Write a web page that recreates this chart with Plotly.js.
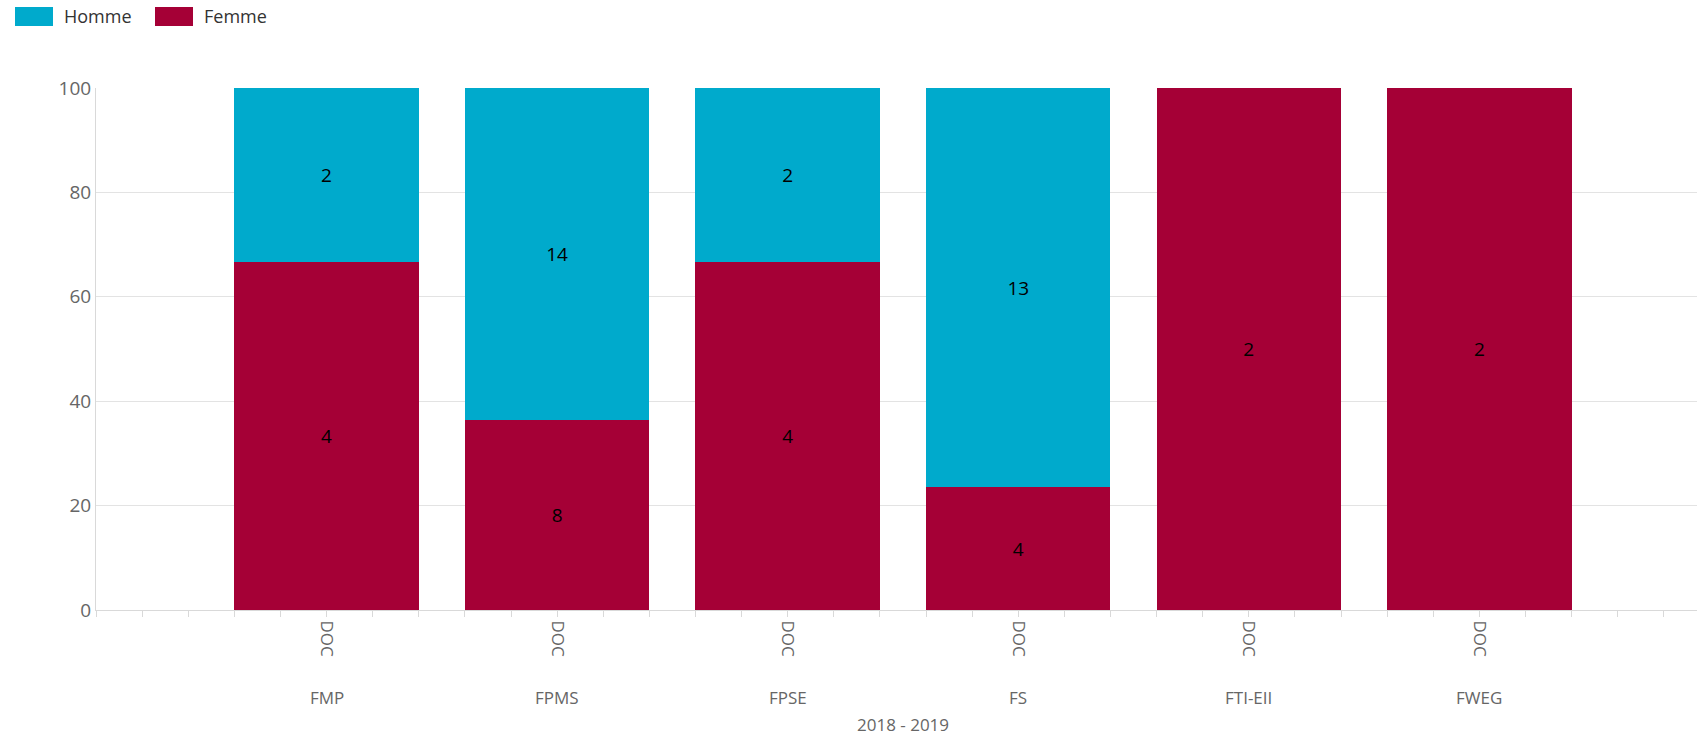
<!DOCTYPE html>
<html>
<head>
<meta charset="utf-8">
<script src="https://cdn.plot.ly/plotly-3.0.1.min.js"></script>
<style>
  html, body { margin: 0; padding: 0; background: #fff; }
  #chart { width: 1697px; height: 737px; }
</style>
</head>
<body>
<div id="chart"></div>
<script>
// ---- data ----
const faculties = ["FMP", "FPMS", "FPSE", "FS", "FTI-EII", "FWEG"];
const level = "DOC";
const yearLabel = "2018 - 2019";
const femme = [4, 8, 4, 4, 2, 2];
const homme = [2, 14, 2, 13, 0, 0];
const yTicks = [0, 20, 40, 60, 80, 100];

// ---- styling ----
const FONT = "Open Sans, Noto Sans, DejaVu Sans, sans-serif";
const C_HOMME = "#00AACC";
const C_FEMME = "#A50036";
const C_AXIS = "#d9d9d9";
const C_GRID = "#e3e3e3";
const C_TICKTXT = "#666666";

const W = 1697, H = 737;
const M = { l: 96, r: 0, t: 88, b: 127 };
const plotW = W - M.l - M.r, plotH = H - M.t - M.b;
const unit = 230.56;               // px per category step
const pos = faculties.map((_, i) => i + 1);

function px2x(px) { return (px - M.l) / plotW; }
function py2y(py) { return (H - M.b - py) / plotH; }

const txt = arr => arr.map(v => (v ? String(v) : ""));

const traces = [
  {
    type: "bar", name: "Femme", x: pos, y: femme,
    marker: { color: C_FEMME, line: { width: 0 } },
    width: 0.8,
    text: txt(femme), textposition: "inside", insidetextanchor: "middle",
    textangle: 0, constraintext: "none",
    textfont: { family: FONT, size: 19, color: "#000" },
    hoverinfo: "skip"
  },
  {
    type: "bar", name: "Homme", x: pos, y: homme,
    marker: { color: C_HOMME, line: { width: 0 } },
    width: 0.8,
    text: txt(homme), textposition: "inside", insidetextanchor: "middle",
    textangle: 0, constraintext: "none",
    textfont: { family: FONT, size: 19, color: "#000" },
    hoverinfo: "skip"
  }
];

const annotations = [];
faculties.forEach((f, i) => {
  annotations.push({
    xref: "x", yref: "paper", x: pos[i], y: py2y(697),
    text: f, showarrow: false, xanchor: "center", yanchor: "middle",
    font: { family: FONT, size: 17, color: C_TICKTXT }
  });
});
annotations.push({
  xref: "x", yref: "paper", x: (pos[0] + pos[pos.length - 1]) / 2, y: py2y(724),
  text: yearLabel, showarrow: false, xanchor: "center", yanchor: "middle",
  font: { family: FONT, size: 17, color: C_TICKTXT }
});
// legend labels
annotations.push({
  xref: "paper", yref: "paper", x: px2x(62), y: py2y(16),
  text: "Homme", showarrow: false, xanchor: "left", yanchor: "middle",
  font: { family: FONT, size: 18, color: "#333" }
});
annotations.push({
  xref: "paper", yref: "paper", x: px2x(202), y: py2y(16),
  text: "Femme", showarrow: false, xanchor: "left", yanchor: "middle",
  font: { family: FONT, size: 18, color: "#333" }
});

const shapes = [
  { type: "rect", xref: "paper", yref: "paper",
    x0: px2x(15), x1: px2x(53), y0: py2y(26), y1: py2y(7),
    fillcolor: C_HOMME, line: { width: 0 } },
  { type: "rect", xref: "paper", yref: "paper",
    x0: px2x(155), x1: px2x(193), y0: py2y(26), y1: py2y(7),
    fillcolor: C_FEMME, line: { width: 0 } }
];

const layout = {
  width: W, height: H,
  margin: M,
  paper_bgcolor: "#fff", plot_bgcolor: "#fff",
  barmode: "stack", barnorm: "percent",
  showlegend: false,
  hovermode: false,
  xaxis: {
    type: "linear",
    range: [0, plotW / unit],
    tickmode: "array", tickvals: pos, ticktext: pos.map(() => level),
    tickangle: 90,
    ticks: "outside", ticklen: 6, tickcolor: C_AXIS, tickwidth: 1,
    minor: { tickmode: "linear", tick0: 0, dtick: 0.2, ticks: "outside",
             ticklen: 6, tickcolor: C_AXIS, tickwidth: 1, showgrid: false },
    tickfont: { family: FONT, size: 17, color: C_TICKTXT },
    showgrid: false, zeroline: false,
    showline: true, linecolor: C_AXIS, linewidth: 1,
    fixedrange: true
  },
  yaxis: {
    range: [0, 100],
    tickmode: "array", tickvals: yTicks,
    tickfont: { family: FONT, size: 19, color: C_TICKTXT },
    ticks: "", ticklabelstandoff: 0,
    showgrid: true, gridcolor: C_GRID, gridwidth: 1,
    zeroline: false,
    showline: true, linecolor: C_AXIS, linewidth: 1,
    fixedrange: true
  },
  annotations: annotations,
  shapes: shapes
};

Plotly.newPlot("chart", traces, layout, { displayModeBar: false, staticPlot: true });
</script>
</body>
</html>
